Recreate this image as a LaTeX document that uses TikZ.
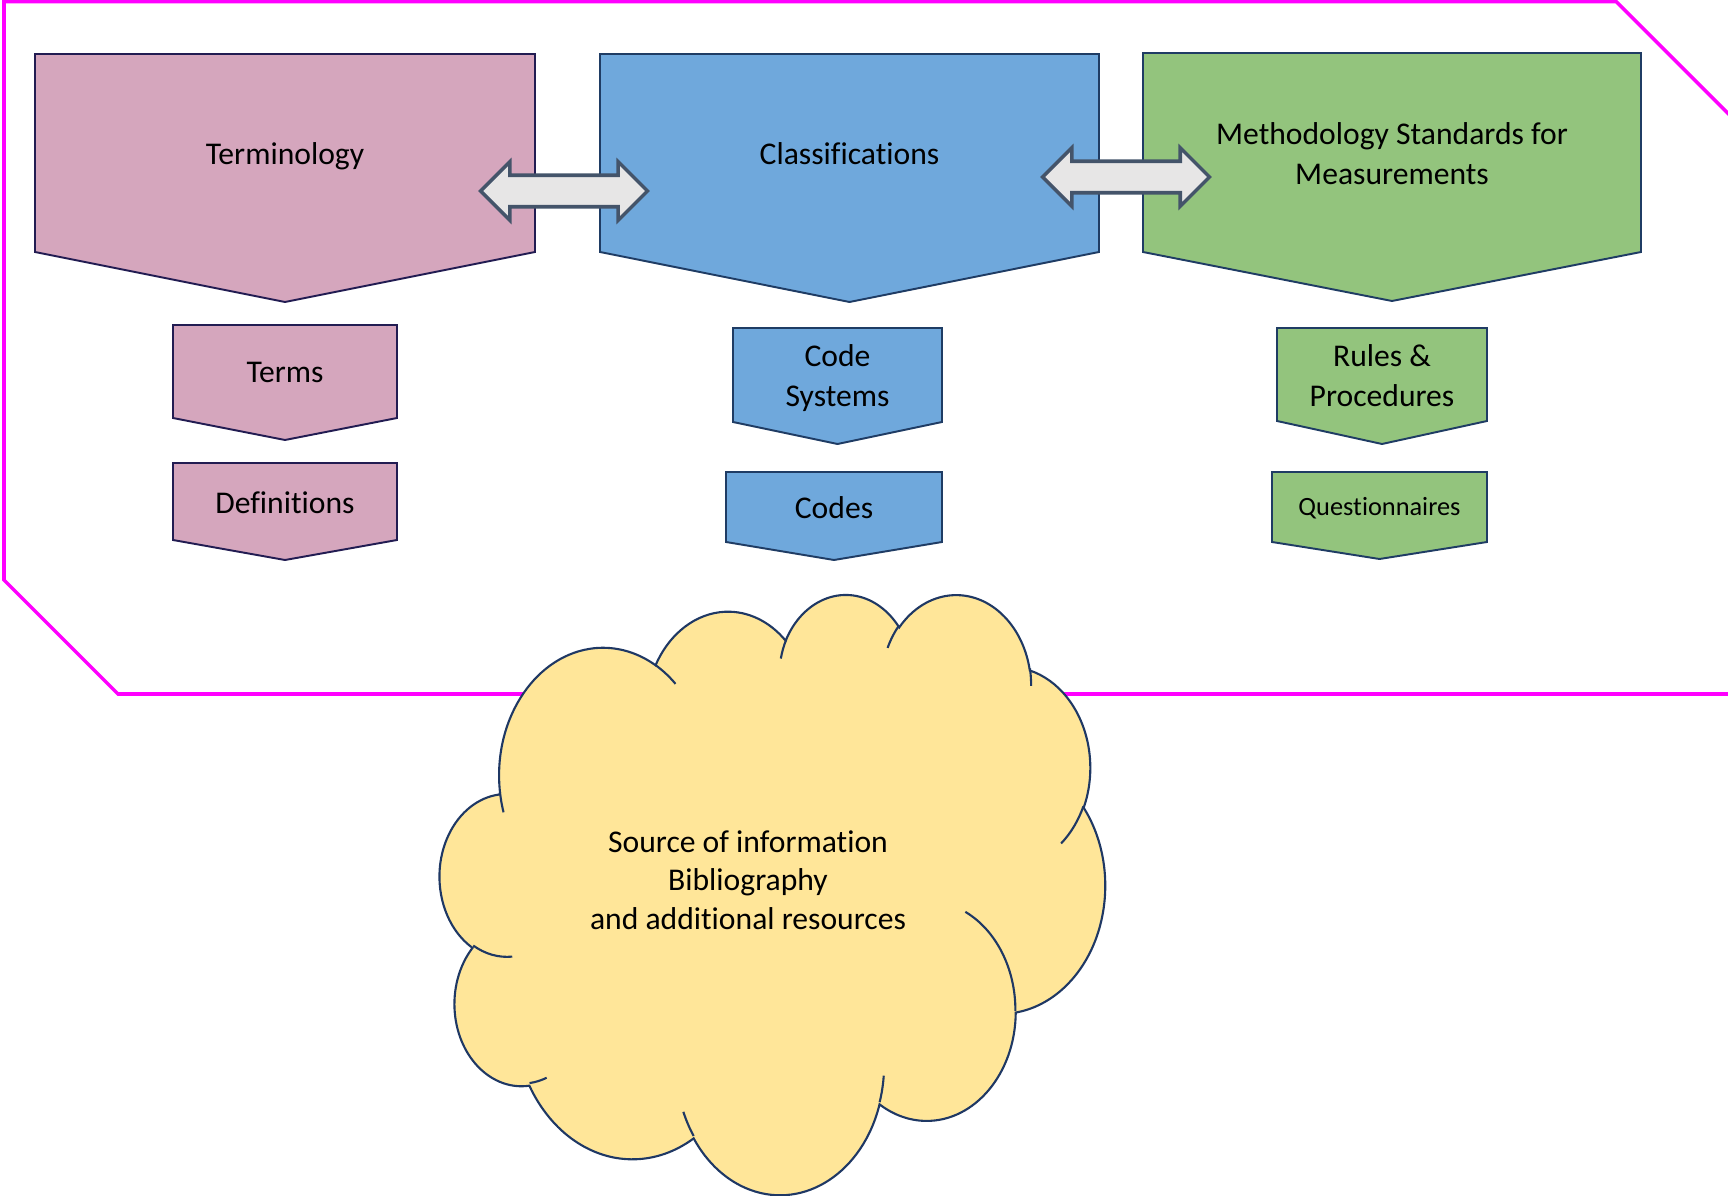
\documentclass[tikz,border=0pt]{standalone}
\usepackage{fontspec}
\setmainfont{Carlito}[Ligatures=NoCommon]
\usetikzlibrary{calc,shapes.arrows}
\newlength{\frameline}
\newlength{\chevronline}
\newlength{\linkline}
\setlength{\frameline}{2pt}
\setlength{\chevronline}{1.1pt}
\setlength{\linkline}{2pt}
\definecolor{termcolor}{HTML}{D5A6BD}
\definecolor{termline}{HTML}{221C52}
\definecolor{classcolor}{HTML}{6FA8DC}
\definecolor{methodcolor}{HTML}{93C47D}
\definecolor{boxline}{HTML}{1F3C64}
\definecolor{cloudcolor}{HTML}{FFE699}
\definecolor{cloudline}{HTML}{1F3864}
\definecolor{linkline}{HTML}{44546A}
\definecolor{linkfill}{HTML}{E7E6E6}
\definecolor{framecolor}{RGB}{255,0,255}
\tikzstyle{chev} = [line width=\chevronline, line join=miter]
\tikzstyle{termbox} = [chev, draw=termline, fill=termcolor]
\tikzstyle{classbox} = [chev, draw=boxline, fill=classcolor]
\tikzstyle{methodbox} = [chev, draw=boxline, fill=methodcolor]
\tikzstyle{chevtext} = [font=\fontsize{18}{23}\selectfont, align=center, inner sep=0]
\tikzstyle{linkarrow} = [double arrow, draw=linkline, fill=linkfill, line width=\linkline, double arrow tip angle=90, double arrow head extend=0.27cm, minimum height=3.34cm, inner xsep=0, inner ysep=0.28cm]
\tikzstyle{cloudedge} = [draw=cloudline, line width=1.2pt]
% chevron: name, style, left, top, right, shoulder, tip, text, text shift
\newcommand{\chevron}[9]{
	\filldraw[#2] (#3,#4) -- (#5,#4) -- (#5,#6) -- ({(#3+#5)/2},#7) -- (#3,#6) -- cycle;
	\node[chevtext] (#1) at ({(#3+#5)/2},{(#4+#6)/2+#9}) {#8};
}
% one puff of the cloud: x radius, y radius, start, sweep
\newcommand{\puff}[4]{
	let \n1 = {atan2((#1)*sin(#3),(#2)*cos(#3))},
	\n2 = {atan2((#1)*sin((#3)+(#4)),(#2)*cos((#3)+(#4)))},
	\n3 = {mod(\n2-(\n1)+720,360)}
	in arc[start angle=\n1, delta angle=\n3, x radius=#1, y radius=#2]
}

\begin{document}
\begin{tikzpicture}[x=0.02cm, y=-0.02cm]
	\useasboundingbox (0,0) rectangle (1728,1196);
	\clip (0,0) rectangle (1728,1196);
	
	% outer frame
	\draw[framecolor, line width=\frameline, line join=miter] (4,1.5) -- (1616,1.5) -- (1780,165.5) -- (1780,694) -- (118,694) -- (4,580) -- cycle;
	
	% top row
	\chevron{term}{termbox}{35}{54}{535}{252}{302}{Terminology}{3}
	\chevron{class}{classbox}{600}{54}{1099}{252}{302}{Classifications}{1}
	\chevron{method}{methodbox}{1143}{53}{1641}{252}{301}{Methodology Standards for\\Measurements}{1}
	
	% second row
	\chevron{terms}{termbox}{173}{325}{397}{418}{440}{Terms}{1}
	\chevron{codesys}{classbox}{733}{328}{942}{422}{444}{Code\\Systems}{3}
	\chevron{rules}{methodbox}{1277}{328}{1487}{421}{444}{Rules \&\\Procedures}{1}
	
	% third row
	\chevron{defs}{termbox}{173}{463}{397}{540}{560}{Definitions}{1}
	\chevron{codes}{classbox}{726}{472}{942}{542}{560}{Codes}{1}
	\chevron{quest}{methodbox}{1272}{472}{1487}{542}{559}{\fontsize{15}{18}\selectfont Questionnaires}{1}
	
	% links between the top boxes
	\node[linkarrow] (termlink) at (564,191) {};
	\node[linkarrow] (methodlink) at (1126,177) {};
	
	% cloud
	\begin{scope}[shift={(440,593)}, x=0.03079cm, y=-0.02778cm]
		\filldraw[cloudedge, fill=cloudcolor] (39,143.7)
		\puff{67.53}{91.90}{-190.487}{123.781}
		\puff{53.33}{72.67}{-144.102}{89.945}
		\puff{43.65}{59.45}{-145.808}{99.723}
		\puff{48.57}{65.95}{-130.986}{117.242}
		\puff{53.33}{72.73}{-78.709}{109.027}
		\puff{67.75}{92.20}{-46.267}{130.269}
		\puff{57.85}{78.67}{0.625}{114.033}
		\puff{67.52}{92.15}{22.452}{115.173}
		\puff{77.20}{105.43}{66.243}{75.711}
		\puff{43.60}{59.18}{-274.942}{146.736}
		\puff{43.45}{59.45}{-246.829}{152.519}
		-- cycle;
		\draw[cloudedge]
		(46.93,261.77) \puff{43.45}{59.45}{86.742}{26.430}
		(69.28,348.99) \puff{43.60}{59.18}{73.610}{11.447}
		(164.78,390.90) \puff{67.52}{92.15}{137.624}{14.081}
		(288.27,347.51) \puff{67.52}{92.15}{6.453}{15.998}
		(341.29,229.54) \puff{57.85}{78.67}{-70.292}{70.917}
		(417.98,153.54) \puff{53.33}{72.73}{30.318}{27.752}
		(383.24,54.26) \puff{48.57}{65.95}{-13.744}{14.859}
		(290.78,39.52) \puff{48.57}{65.95}{-149.181}{18.195}
		(221.41,47.20) \puff{43.65}{59.45}{-163.494}{17.686}
		(140.00,51.92) \puff{67.53}{91.90}{-66.707}{12.319}
		(41.27,157.89) \puff{67.53}{91.90}{157.654}{11.858};
	\end{scope}
	\node[chevtext, font=\fontsize{18}{22}\selectfont] (source) at (748,880) {Source of information\\Bibliography\\and additional resources};
	
\end{tikzpicture}
\end{document}
